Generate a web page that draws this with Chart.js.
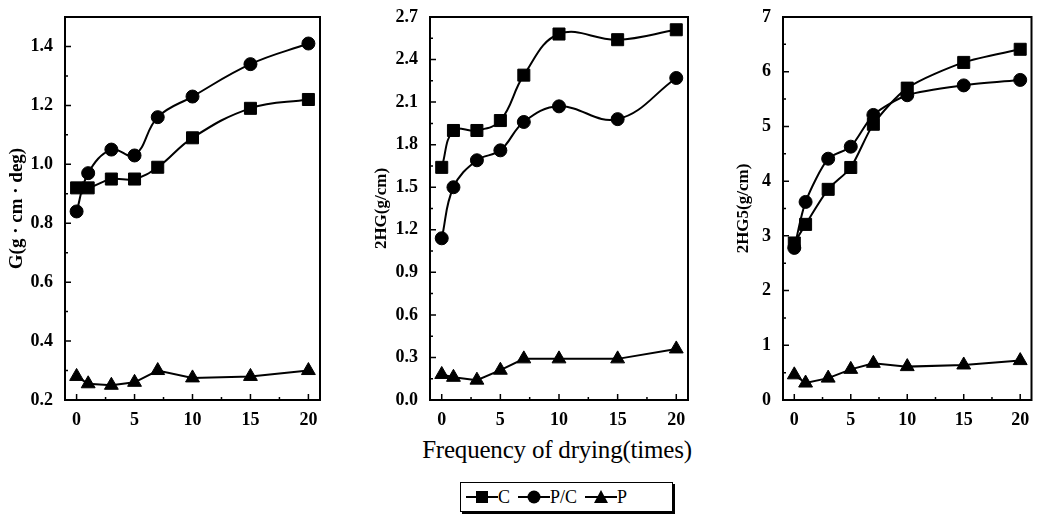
<!DOCTYPE html>
<html>
<head>
<meta charset="utf-8">
<script src="https://cdn.jsdelivr.net/npm/chart.js@4"></script>
<style>
  body { margin: 0; background: #fff; width: 1041px; height: 521px; position: relative; overflow: hidden; }
  canvas { position: absolute; top: 0; }
  #xTitle { position: absolute; left: 0; width: 1114px; top: 436px; text-align: center;
            font: 25px "Liberation Serif", serif; color: #000; letter-spacing: -0.2px; }
  #legend { position: absolute; left: 460px; top: 482px; width: 211px; height: 28px;
            border: 1.5px solid #000; box-shadow: 2px 2px 0 #000; display: flex; align-items: center;
            font: 18px "Liberation Serif", serif; color: #000; }
  #legend span { display: inline-flex; align-items: center; margin-left: 5px; margin-right: 3px; }
  #legend canvas { position: static; }
</style>
</head>
<body>
<canvas id="gChart" width="330" height="430" style="left:0px"></canvas>
<canvas id="hgChart" width="333" height="430" style="left:365px"></canvas>
<canvas id="hg5Chart" width="314" height="430" style="left:727px"></canvas>
<div id="xTitle">Frequency of drying(times)</div>
<div id="legend"></div>
<script>
// drying cycles on the x axis
const drying = [0, 1, 3, 5, 7, 10, 15, 20];
const seriesNames = ['C', 'P/C', 'P'];

// G (g·cm·deg)
const gC  = [0.92, 0.92, 0.95, 0.95, 0.99, 1.09, 1.19, 1.22];
const gPC = [0.84, 0.97, 1.05, 1.03, 1.16, 1.23, 1.34, 1.41];
const gP  = [0.28, 0.255, 0.25, 0.26, 0.30, 0.275, 0.28, 0.30];

// 2HG (g/cm)
const hgC  = [1.64, 1.90, 1.90, 1.97, 2.29, 2.58, 2.54, 2.61];
const hgPC = [1.14, 1.50, 1.69, 1.76, 1.96, 2.07, 1.98, 2.27];
const hgP  = [0.18, 0.16, 0.14, 0.21, 0.29, 0.29, 0.29, 0.36];

// 2HG5 (g/cm)
const hg5C  = [2.87, 3.21, 3.85, 4.25, 5.04, 5.70, 6.17, 6.41];
const hg5PC = [2.78, 3.62, 4.41, 4.63, 5.21, 5.57, 5.75, 5.85];
const hg5P  = [0.46, 0.31, 0.40, 0.56, 0.67, 0.61, 0.64, 0.72];

// tick labels
const xTicks   = [0, 5, 10, 15, 20];
const gTicks   = [0.2, 0.4, 0.6, 0.8, 1.0, 1.2, 1.4];
const hgTicks  = [0.0, 0.3, 0.6, 0.9, 1.2, 1.5, 1.8, 2.1, 2.4, 2.7];
const hg5Ticks = [0, 1, 2, 3, 4, 5, 6, 7];

const styles = [
  { pointStyle: 'rect', pointRadius: 8.5 },
  { pointStyle: 'circle', pointRadius: 6.5 },
  { pointStyle: 'triangle', pointRadius: 8 }
];

const serif = '"Liberation Serif", "DejaVu Serif", serif';

// box round the plot plus inward tick marks
const frameTicks = {
  id: 'frameTicks',
  afterDraw(chart, args, opts) {
    const { ctx, chartArea: a, scales: { x, y } } = chart;
    const mids = arr => arr.slice(1).map((v, i) => (v + arr[i]) / 2);
    ctx.save();
    ctx.strokeStyle = '#000';
    ctx.lineWidth = 2;
    ctx.strokeRect(a.left, a.top, a.right - a.left, a.bottom - a.top);
    ctx.lineWidth = 1.5;
    ctx.beginPath();
    opts.yMajor.forEach(v => { const p = y.getPixelForValue(v); ctx.moveTo(a.left, p); ctx.lineTo(a.left + 6, p); });
    mids(opts.yMajor).forEach(v => { const p = y.getPixelForValue(v); ctx.moveTo(a.left, p); ctx.lineTo(a.left + 3, p); });
    xTicks.forEach(v => { const p = x.getPixelForValue(v); ctx.moveTo(p, a.bottom); ctx.lineTo(p, a.bottom - 6); });
    mids(xTicks).forEach(v => { const p = x.getPixelForValue(v); ctx.moveTo(p, a.bottom); ctx.lineTo(p, a.bottom - 3); });
    ctx.stroke();
    ctx.restore();
  }
};

function makeChart(id, series, ticks, yMin, yMax, title, yWidth, digits, titleSize, tension) {
  const ctx = document.getElementById(id).getContext('2d');
  return new Chart(ctx, {
    type: 'line',
    data: {
      labels: drying,
      datasets: series.map((vals, i) => ({
        label: seriesNames[i],
        data: vals.map((v, j) => ({ x: drying[j], y: v })),
        borderColor: '#000',
        backgroundColor: '#000',
        borderWidth: 2,
        pointBorderWidth: 1,
        tension: i === 2 ? 0 : tension,
        ...styles[i]
      }))
    },
    options: {
      responsive: false,
      animation: false,
      layout: { padding: { top: 17, right: id === 'hg5Chart' ? 3 : 10, left: 0, bottom: 0 } },
      plugins: {
        legend: { display: false },
        tooltip: { enabled: false },
        frameTicks: { yMajor: ticks }
      },
      scales: {
        x: {
          type: 'linear',
          min: -1,
          max: 21,
          afterBuildTicks: s => { s.ticks = xTicks.map(v => ({ value: v })); },
          afterFit: s => { s.height = 30; },
          grid: { display: false },
          border: { display: false },
          ticks: { color: '#000', padding: 2, font: { family: serif, size: 18, weight: 'bold' } }
        },
        y: {
          min: yMin,
          max: yMax,
          afterBuildTicks: s => { s.ticks = ticks.map(v => ({ value: v })); },
          afterFit: s => { s.width = yWidth; },
          grid: { display: false },
          border: { display: false },
          ticks: {
            color: '#000', padding: 4,
            font: { family: serif, size: 18, weight: 'bold' },
            callback: v => v.toFixed(digits)
          },
          title: {
            display: true, text: title, color: '#000',
            padding: { top: 6, bottom: 0 },
            font: { family: serif, size: titleSize, weight: 'bold' }
          }
        }
      }
    },
    plugins: [frameTicks]
  });
}

makeChart('gChart', [gC, gPC, gP], gTicks, 0.2, 1.5, 'G(g · cm · deg)', 65, 1, 19, 0.4);
makeChart('hgChart', [hgC, hgPC, hgP], hgTicks, 0, 2.7, '2HG(g/cm)', 65, 1, 17, 0.4);
makeChart('hg5Chart', [hg5C, hg5PC, hg5P], hg5Ticks, 0, 7, '2HG5(g/cm)', 56, 0, 17, 0.25);

// legend: line + marker symbol, then the series name
const legend = document.getElementById('legend');
seriesNames.forEach((name, i) => {
  const item = document.createElement('span');
  const c = document.createElement('canvas');
  c.width = 32; c.height = 20;
  const g = c.getContext('2d');
  g.strokeStyle = '#000'; g.fillStyle = '#000'; g.lineWidth = 2;
  g.beginPath(); g.moveTo(0, 10); g.lineTo(32, 10); g.stroke();
  g.beginPath();
  if (i === 0) g.rect(10, 4, 12, 12);
  else if (i === 1) g.arc(16, 10, 6.5, 0, Math.PI * 2);
  else { g.moveTo(16, 3); g.lineTo(23, 16); g.lineTo(9, 16); g.closePath(); }
  g.fill();
  item.appendChild(c);
  item.appendChild(document.createTextNode(name));
  legend.appendChild(item);
});
</script>
</body>
</html>
